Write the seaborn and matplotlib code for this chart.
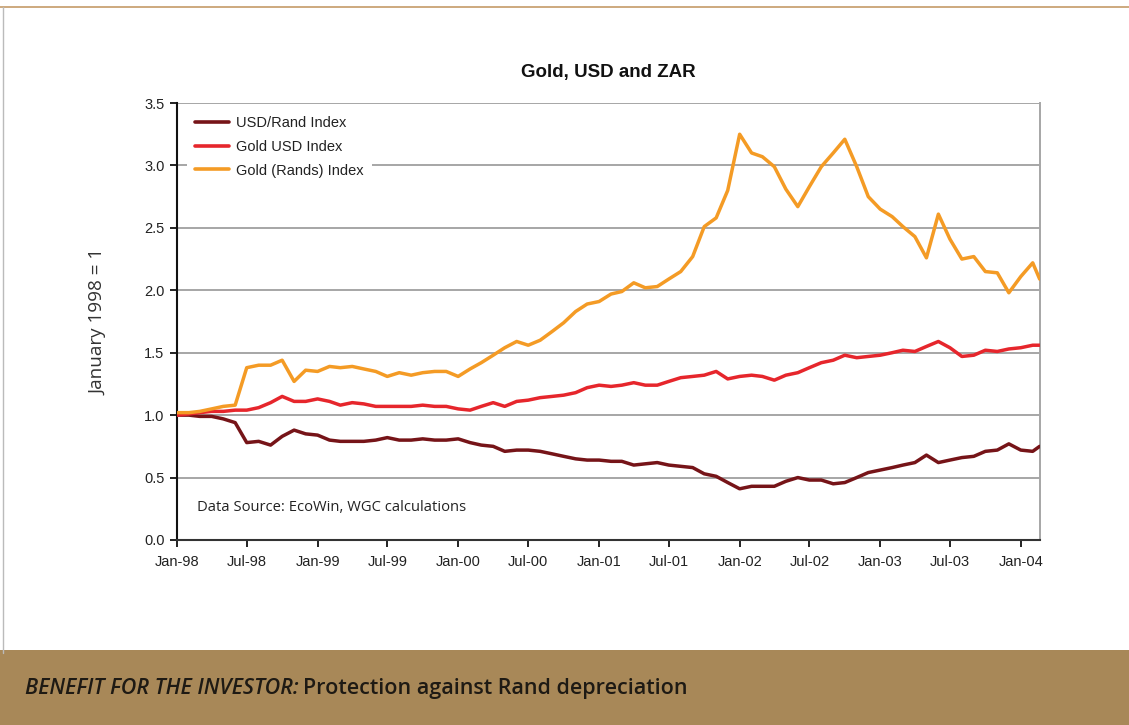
import pandas as pd
import numpy as np
import matplotlib
matplotlib.use('Agg')
import matplotlib.pyplot as plt
import matplotlib.dates as mdates
from matplotlib.patches import Rectangle
from matplotlib.lines import Line2D
import seaborn as sns

# monthly index values, January 1998 = 1 (last point ~19 Feb 2004)
dates = list(pd.date_range('1998-01-01', '2004-02-01', freq='MS')) + [pd.Timestamp('2004-02-19')]

usd_rand = [1.00, 1.00, 0.99, 0.99, 0.97, 0.94, 0.78, 0.79, 0.76, 0.83, 0.88, 0.85,
            0.84, 0.80, 0.79, 0.79, 0.79, 0.80, 0.82, 0.80, 0.80, 0.81, 0.80, 0.80,
            0.81, 0.78, 0.76, 0.75, 0.71, 0.72, 0.72, 0.71, 0.69, 0.67, 0.65, 0.64,
            0.64, 0.63, 0.63, 0.60, 0.61, 0.62, 0.60, 0.59, 0.58, 0.53, 0.51, 0.46,
            0.41, 0.43, 0.43, 0.43, 0.47, 0.50, 0.48, 0.48, 0.45, 0.46, 0.50, 0.54,
            0.56, 0.58, 0.60, 0.62, 0.68, 0.62, 0.64, 0.66, 0.67, 0.71, 0.72, 0.77,
            0.72, 0.71, 0.75]

gold_usd = [1.00, 1.01, 1.02, 1.03, 1.03, 1.04, 1.04, 1.06, 1.10, 1.15, 1.11, 1.11,
            1.13, 1.11, 1.08, 1.10, 1.09, 1.07, 1.07, 1.07, 1.07, 1.08, 1.07, 1.07,
            1.05, 1.04, 1.07, 1.10, 1.07, 1.11, 1.12, 1.14, 1.15, 1.16, 1.18, 1.22,
            1.24, 1.23, 1.24, 1.26, 1.24, 1.24, 1.27, 1.30, 1.31, 1.32, 1.35, 1.29,
            1.31, 1.32, 1.31, 1.28, 1.32, 1.34, 1.38, 1.42, 1.44, 1.48, 1.46, 1.47,
            1.48, 1.50, 1.52, 1.51, 1.55, 1.59, 1.54, 1.47, 1.48, 1.52, 1.51, 1.53,
            1.54, 1.56, 1.56]

gold_rand = [1.02, 1.02, 1.03, 1.05, 1.07, 1.08, 1.38, 1.40, 1.40, 1.44, 1.27, 1.36,
             1.35, 1.39, 1.38, 1.39, 1.37, 1.35, 1.31, 1.34, 1.32, 1.34, 1.35, 1.35,
             1.31, 1.37, 1.42, 1.48, 1.54, 1.59, 1.56, 1.60, 1.67, 1.74, 1.83, 1.89,
             1.91, 1.97, 1.99, 2.06, 2.02, 2.03, 2.09, 2.15, 2.27, 2.51, 2.58, 2.80,
             3.25, 3.10, 3.07, 2.99, 2.81, 2.67, 2.83, 2.99, 3.10, 3.21, 2.99, 2.75,
             2.65, 2.59, 2.51, 2.43, 2.26, 2.61, 2.41, 2.25, 2.27, 2.15, 2.14, 1.98,
             2.11, 2.22, 2.09]

series_names = ['USD/Rand Index', 'Gold USD Index', 'Gold (Rands) Index']
colors = {'USD/Rand Index': '#761418', 'Gold USD Index': '#E6262C',
          'Gold (Rands) Index': '#F49B25'}

df = pd.DataFrame({'Date': dates, 'USD/Rand Index': usd_rand,
                   'Gold USD Index': gold_usd, 'Gold (Rands) Index': gold_rand})
long = df.melt(id_vars='Date', var_name='Series', value_name='Index')

sns.set_style('white')
plt.rcParams['font.family'] = ['Liberation Sans', 'DejaVu Sans']

fig = plt.figure(figsize=(11.29, 7.25), dpi=100)
ax = fig.add_axes([0.1568, 0.2552, 0.7644, 0.6027])

sns.lineplot(data=long, x='Date', y='Index', hue='Series', hue_order=series_names,
             palette=colors, linewidth=2.5, ax=ax, zorder=3)

ax.set_ylim(0, 3.5)
ax.set_xlim(pd.Timestamp('1998-01-01'), pd.Timestamp('2004-02-20'))
ax.set_yticks(np.arange(0, 3.51, 0.5))
ax.set_yticklabels([f'{v:.1f}' for v in np.arange(0, 3.51, 0.5)], fontsize=10.5, color='#222222')
ax.xaxis.set_major_locator(mdates.MonthLocator(bymonth=[1, 7]))
ax.xaxis.set_major_formatter(mdates.DateFormatter('%b-%y'))
for lab in ax.get_xticklabels():
    lab.set_fontsize(10.5)
    lab.set_color('#222222')

ax.grid(axis='y', color='#A6A6A6', linewidth=1.4, zorder=0)
ax.grid(axis='x', visible=False)
ax.tick_params(axis='both', direction='out', length=5, width=1.3, color='#111111',
               left=True, bottom=True, pad=4)
ax.tick_params(axis='x', pad=6)

ax.spines['left'].set_color('#111111')
ax.spines['left'].set_linewidth(1.5)
ax.spines['bottom'].set_color('#333333')
ax.spines['bottom'].set_linewidth(1.5)
ax.spines['right'].set_color('#A6A6A6')
ax.spines['right'].set_linewidth(1.4)
ax.spines['top'].set_visible(False)

ax.set_xlabel('')
ax.set_ylabel('')

leg = ax.legend(loc='upper left', bbox_to_anchor=(0.012, 0.988), fontsize=10.5,
                frameon=True, facecolor='white', edgecolor='white', framealpha=1,
                handlelength=2.3, handletextpad=0.5, labelspacing=0.66,
                borderpad=0.55, borderaxespad=0)
leg.get_frame().set_linewidth(0)
for t in leg.get_texts():
    t.set_color('#222222')
for h in leg.get_lines():
    h.set_linewidth(2.6)

ax.set_title('Gold, USD and ZAR', fontsize=13.5, fontweight='bold', color='#111111', pad=19)

ax.text(0.023, 0.075, 'Data Source: EcoWin, WGC calculations', transform=ax.transAxes,
        fontsize=10.6, family='Open Sans', color='#222222', va='center')

fig.text(0.087, 0.556, 'January 1998 = 1', rotation=90, fontsize=13.6,
         family='Open Sans', color='#333333', va='center', ha='center')

# page frame and banner
fig.add_artist(Line2D([0, 1], [0.990, 0.990], transform=fig.transFigure,
                      color='#C9A274', linewidth=1.3))
fig.add_artist(Line2D([0.003, 0.003], [0.10, 0.990], transform=fig.transFigure,
                      color='#BBBBBB', linewidth=1.0))
fig.add_artist(Rectangle((0, 0), 1, 0.1034, transform=fig.transFigure,
                         facecolor='#A88858', edgecolor='none', zorder=0))

t1 = fig.text(0.022, 0.051, 'BENEFIT FOR THE INVESTOR:', fontsize=15.5, family='Open Sans',
              style='italic', fontweight='semibold', color='#1E1A14', va='center')
fig.canvas.draw()
bb = t1.get_window_extent(renderer=fig.canvas.get_renderer())
x2 = (bb.x1 + 5) / fig.bbox.width
fig.text(x2, 0.051, 'Protection against Rand depreciation', fontsize=15.5, family='Open Sans',
         fontweight='semibold', color='#1E1A14', va='center')

fig.savefig('out.png', dpi=100)
